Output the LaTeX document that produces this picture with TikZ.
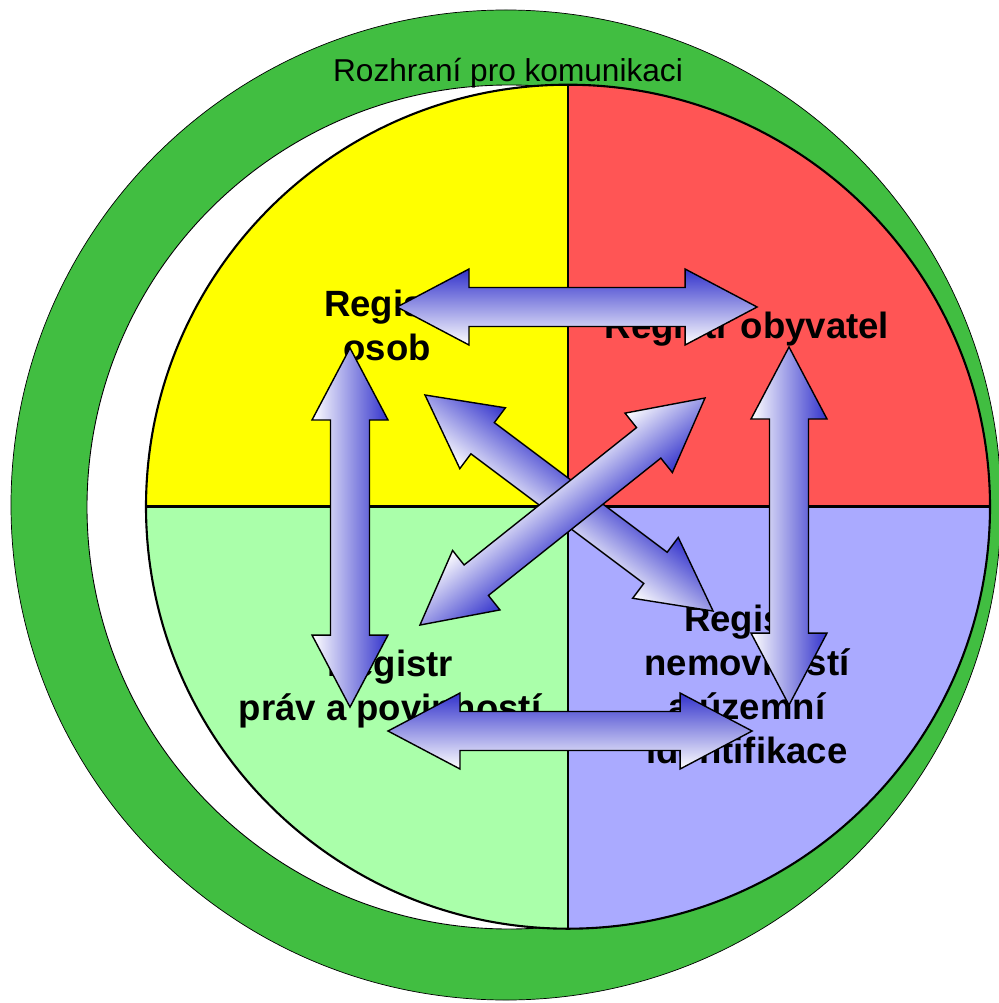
\documentclass[tikz,border=0pt]{standalone}
\usepackage{fontspec}
\setmainfont{Liberation Sans}
\usetikzlibrary{calc}

\newcommand{\twinarrow}[2]{%
 \path let \p1=($(#2)-(#1)$) in
  \pgfextra{\pgfmathsetmacro{\arrlen}{veclen(\x1,\y1)/0.569055}\global\let\arrlen\arrlen
   \pgfmathsetmacro{\arrang}{atan2(\y1,\x1)}\global\let\arrang\arrang};
 \begin{scope}[transform canvas={shift={(#1)},rotate=\arrang}]
  \shade[twin] (0,0) -- (72,38) -- (72,19.5) -- (\arrlen-72,19.5) -- (\arrlen-72,38) -- (\arrlen,0)
   -- (\arrlen-72,-38) -- (\arrlen-72,-19.5) -- (72,-19.5) -- (72,-38) -- cycle;
 \end{scope}}

\begin{document}
\begin{tikzpicture}[x=0.02cm,y=0.02cm,
 twin/.style={draw=black,line width=.8pt,top color=arrblue,bottom color=white,line join=miter},
 reg/.style={font=\fontsize{20.8}{25}\selectfont\bfseries,align=center,anchor=base,inner sep=0pt},
 split/.style={draw=black,line width=1.6pt}]
\definecolor{ringgreen}{RGB}{65,190,65}
\definecolor{arrblue}{RGB}{51,51,204}
\definecolor{qyellow}{RGB}{255,255,0}
\definecolor{qred}{RGB}{255,85,85}
\definecolor{qgreen}{RGB}{170,255,170}
\definecolor{qblue}{RGB}{170,170,255}
\useasboundingbox (0,0) rectangle (998,-1003);
\fill[ringgreen,draw=black,line width=.4pt] (506,-505) circle (495);
\fill[white,draw=black,line width=.5pt] (509,-507) circle (422);
\coordinate (mid) at (568,-506.7);
\fill[qyellow] (mid) -- ++(-422,0) arc (180:90:422) -- cycle;
\fill[qred] (mid) -- ++(0,422) arc (90:0:422) -- cycle;
\fill[qblue] (mid) -- ++(422,0) arc (0:-90:422) -- cycle;
\fill[qgreen] (mid) -- ++(0,-422) arc (270:180:422) -- cycle;
\draw[line width=1.2pt] (mid) circle (422);
\draw[split] ($(mid)+(-422,0)$) -- ($(mid)+(422,0)$);
\draw[split] ($(mid)+(0,422)$) -- ($(mid)+(0,-422)$);
\node[font=\fontsize{18}{21}\selectfont,anchor=base,inner sep=0pt] (ring) at (508,-82) {Rozhraní pro komunikaci};
\node[reg] (osob) at (387,-360) {Registr\\osob};
\node[reg] (obyv) at (747,-338) {Registr obyvatel};
\node[reg] (prav) at (390,-720) {Registr\\práv a povinností};
\node[reg] (nemo) at (747,-763) {Registr\\nemovitostí\\a územní\\identifikace};
\coordinate (top-l) at (397,-307);
\coordinate (top-r) at (757,-307);
\coordinate (bot-l) at (388,-731);
\coordinate (bot-r) at (752,-731);
\coordinate (lft-t) at (350,-348);
\coordinate (lft-b) at (350,-707);
\coordinate (rgt-t) at (789,-347);
\coordinate (rgt-b) at (789,-705);
\coordinate (dg1-a) at (425,-395);
\coordinate (dg1-b) at (713,-611);
\coordinate (dg2-a) at (705,-398);
\coordinate (dg2-b) at (420,-625);
\twinarrow{top-l}{top-r}
\twinarrow{bot-l}{bot-r}
\twinarrow{lft-t}{lft-b}
\twinarrow{rgt-t}{rgt-b}
\twinarrow{dg1-a}{dg1-b}
\twinarrow{dg2-a}{dg2-b}
\end{tikzpicture}
\end{document}
